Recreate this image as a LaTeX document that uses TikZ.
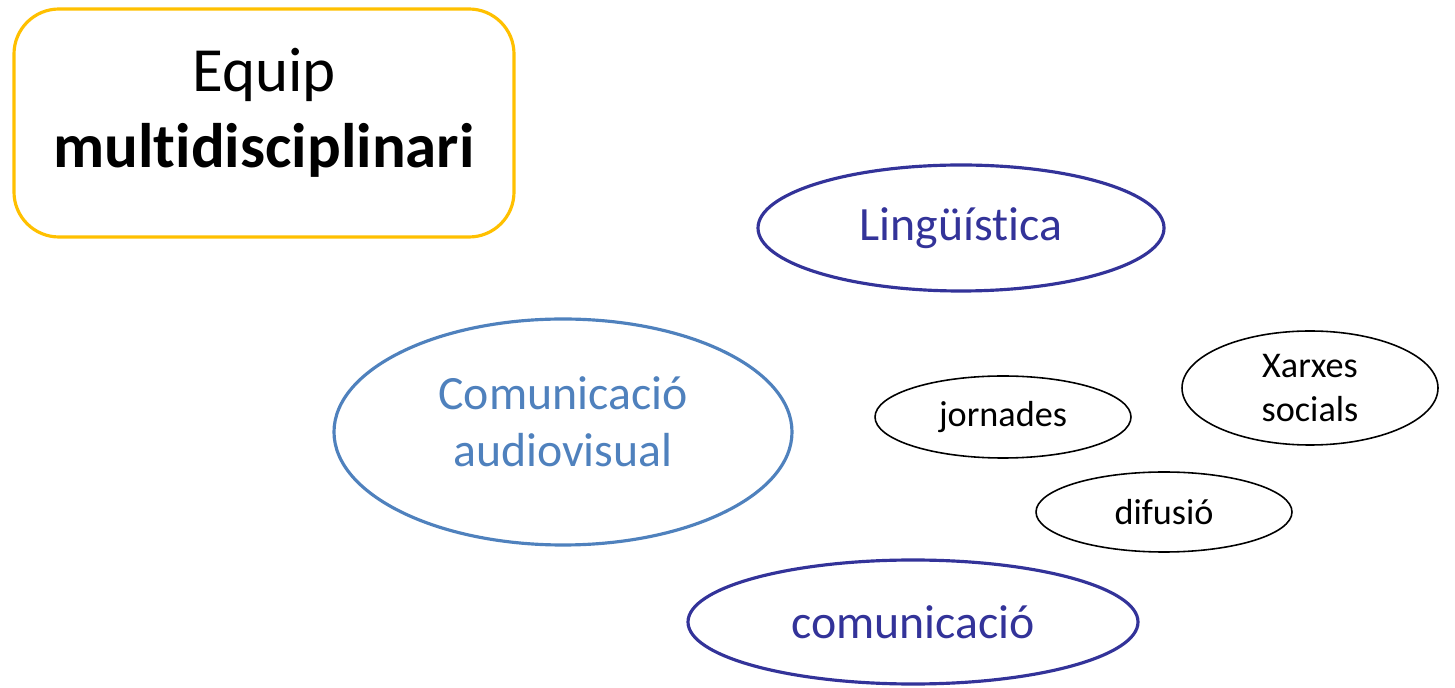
\documentclass[tikz,border=0pt]{standalone}
\usepackage{fontspec}
\setmainfont{Carlito}[Ligatures=NoCommon]
\usetikzlibrary{positioning,shapes.geometric}
\definecolor{gold}{HTML}{FFC000}
\definecolor{navy}{HTML}{333399}
\definecolor{steel}{HTML}{4F81BD}
\begin{document}
\begin{tikzpicture}[big/.style={ellipse,draw,line width=0.9pt,inner sep=0pt,font=\fontsize{13.6}{16.2}\selectfont,align=center},
    small/.style={ellipse,draw=black,line width=0.45pt,inner sep=0pt,font=\fontsize{10.3}{12.4}\selectfont,align=center}]
      \useasboundingbox (0,0) rectangle (14.55,6.87);
      \node[draw=gold,line width=0.9pt,rounded corners=0.45cm,minimum width=5cm,minimum height=2.28cm] (team) at (2.64,5.64) {};
      \node[align=center,font=\fontsize{17.9}{21.6}\selectfont] (teamtext) at ([yshift=1mm]team.center) {Equip\\\textbf{multidisciplinari}};

      \node[big,draw=navy,text=navy,minimum width=4.06cm,minimum height=1.26cm] (ling) at (9.61,4.59) {Lingüística};
      \node[big,draw=steel,minimum width=4.58cm,minimum height=2.26cm] (audio) at (5.63,2.55) {};
      \node[align=center,text=steel,font=\fontsize{13.6}{16.2}\selectfont] (audiotext) at ([yshift=1mm]audio.center) {Comunicació\\audiovisual};
      \node[big,draw=navy,text=navy,minimum width=4.50cm,minimum height=1.24cm] (comm) at (9.13,0.65) {comunicació};

      \node[small,minimum width=2.56cm,minimum height=0.82cm] (jorn) at (10.03,2.70) {jornades};
      \node[small,minimum width=2.56cm,minimum height=1.14cm] (xarx) at (13.10,2.99) {Xarxes\\socials};
      \node[small,minimum width=2.56cm,minimum height=0.80cm] (dif) at (11.64,1.75) {difusió};
\end{tikzpicture}
\end{document}
